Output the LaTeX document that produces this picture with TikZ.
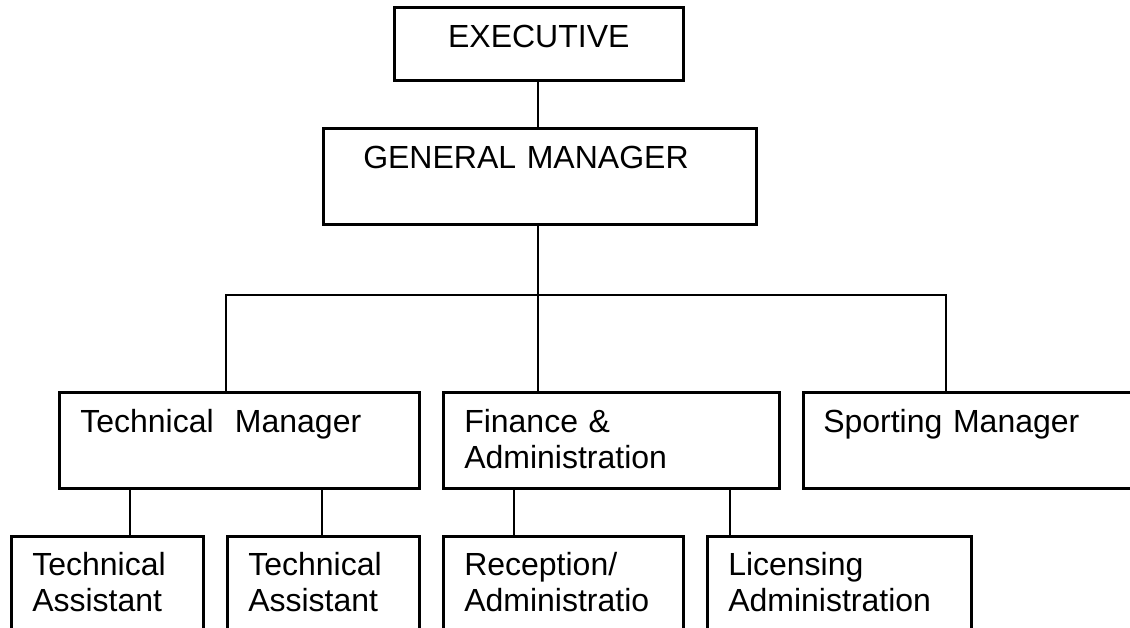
\documentclass[tikz,border=0pt]{standalone}
\usepackage{fontspec}
\setmainfont{Liberation Sans}
\usepackage{tikz}

\begin{document}
\begin{tikzpicture}[
    x=1pt, y=-1pt,
    post/.style={
        rectangle,
        draw=black,
        line width=2.5pt,
        anchor=north west,
        inner xsep=21pt,
        inner ysep=0pt,
        align=left,
        text height=40pt,
        text depth=56pt,
        font=\fontsize{32}{36.5}\selectfont,
    },
    staff/.style={post, text height=39pt, text depth=120pt},
    link/.style={line width=1.5pt, color=black}
]
\useasboundingbox (0,0) rectangle (1130,627);
\clip (0,0) rectangle (1130,627);

\node[post, inner xsep=0pt, minimum width=289pt, align=center, text depth=33pt]
    (Exec) at (393,6) {EXECUTIVE};
\node[post, inner xsep=40pt, text width=353pt] (GM) at (322,127) {GENERAL MANAGER};

\node[post, text width=318pt] (TM) at (58,391) {Technical\ \ Manager};
\node[post, text width=294pt] (FA) at (442,391) {Finance \&\\Administration};
\node[post, inner xsep=20pt, text width=340pt] (SM) at (802,391) {Sporting Manager};

\node[staff, text width=150pt] (TA1) at (10,535) {Technical\\Assistant};
\node[staff, text width=150pt] (TA2) at (226,535) {Technical\\Assistant};
\node[staff, text width=198pt] (RA) at (442,535) {Reception/\\Administratio};
\node[staff, text width=222pt] (LA) at (706,535) {Licensing\\Administration};

\coordinate (mid) at (538,295);
\coordinate (barl) at (226,295);
\coordinate (barr) at (946,295);

\draw[link] (Exec.south -| mid) -- (GM.north -| mid);
\draw[link] (GM.south -| mid) -- (mid) -- (FA.north -| mid);
\draw[link] (TM.north -| barl) |- (barr) -- (SM.north -| barr);

\draw[link] ([xshift=72pt]TM.south west) -- ([xshift=120pt]TA1.north west);
\draw[link] ([xshift=264pt]TM.south west) -- ([xshift=96pt]TA2.north west);
\draw[link] ([xshift=72pt]FA.south west) -- ([xshift=72pt]RA.north west);
\draw[link] ([xshift=288pt]FA.south west) -- ([xshift=24pt]LA.north west);
\end{tikzpicture}
\end{document}
